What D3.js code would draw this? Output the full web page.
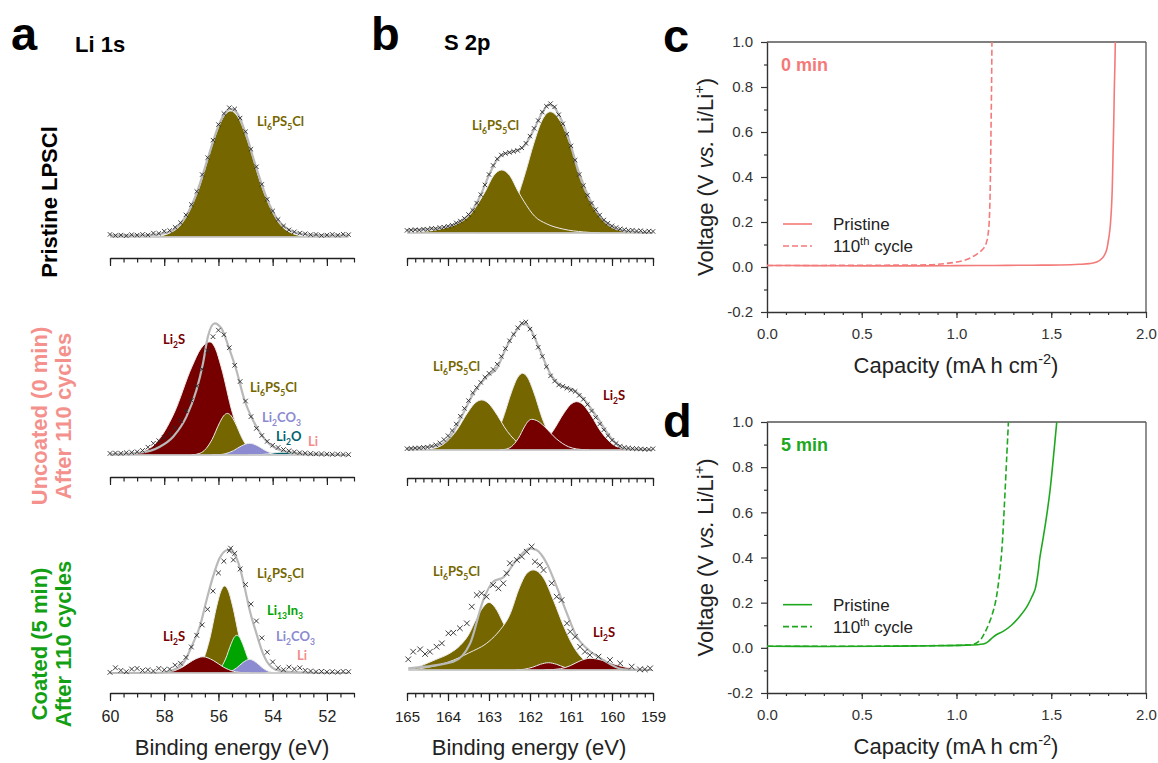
<!DOCTYPE html>
<html>
<head>
<meta charset="utf-8">
<script src="https://cdn.jsdelivr.net/npm/d3@7"></script>
<style>
body { margin: 0; background: #fff; }
svg { display: block; font-family: Arial, "Liberation Sans", sans-serif; }
</style>
</head>
<body>
<div id="chart"></div>
<script>
// ---------- tick labels ----------
const liTicks = [60, 58, 56, 54, 52];
const sTicks = [165, 164, 163, 162, 161, 160, 159];
const capTicks = [0, 0.5, 1.0, 1.5, 2.0];
const voltTicks = [-0.2, 0, 0.2, 0.4, 0.6, 0.8, 1.0];

// ---------- Li 1s, pristine LPSCl  [binding energy eV, intensity] ----------
const liPristineData = [[60.0,0.02],[59.8,0.012],[59.6,0.015],[59.4,0.01],[59.2,0.018],[59.0,0.014],[58.8,0.02],[58.6,0.016],[58.4,0.03],[58.2,0.028],[58.0,0.045],[57.8,0.05],[57.6,0.075],[57.4,0.11],[57.2,0.17],[57.0,0.25],[56.8,0.35],[56.6,0.48],[56.4,0.61],[56.2,0.745],[56.0,0.865],[55.8,0.95],[55.6,0.995],[55.4,0.985],[55.2,0.915],[55.0,0.81],[54.8,0.675],[54.6,0.54],[54.4,0.405],[54.2,0.29],[54.0,0.2],[53.8,0.135],[53.6,0.085],[53.4,0.055],[53.2,0.04],[53.0,0.03],[52.8,0.025],[52.6,0.018],[52.4,0.02],[52.2,0.012],[52.0,0.015],[51.8,0.02],[51.6,0.014],[51.4,0.022],[51.2,0.018]];
const liPristineFit = [[60.0,0.012],[58.6,0.015],[58.0,0.03],[57.6,0.065],[57.2,0.16],[56.8,0.34],[56.4,0.6],[56.0,0.855],[55.8,0.94],[55.55,0.985],[55.3,0.95],[55.0,0.8],[54.6,0.53],[54.2,0.29],[53.8,0.13],[53.4,0.055],[53.0,0.025],[52.4,0.015],[51.2,0.012]];
const liPristineLPSCl = [[58.4,0],[57.75,0.035],[57.35,0.103],[56.75,0.357],[56.15,0.756],[55.85,0.912],[55.55,0.97],[55.25,0.912],[54.95,0.756],[54.35,0.357],[53.75,0.103],[53.35,0.035],[52.7,0]];

// ---------- Li 1s, uncoated after 110 cycles ----------
const liUncData = [[60.0,0.012],[59.8,0.015],[59.6,0.013],[59.4,0.018],[59.2,0.02],[59.0,0.025],[58.8,0.035],[58.6,0.06],[58.4,0.09],[58.2,0.11],[58.0,0.135],[57.8,0.165],[57.6,0.21],[57.4,0.265],[57.2,0.34],[57.0,0.42],[56.8,0.53],[56.6,0.66],[56.4,0.8],[56.2,0.91],[56.0,0.96],[55.8,0.925],[55.6,0.825],[55.4,0.69],[55.2,0.565],[55.0,0.415],[54.8,0.295],[54.6,0.205],[54.4,0.15],[54.2,0.105],[54.0,0.075],[53.8,0.058],[53.6,0.042],[53.4,0.032],[53.2,0.024],[53.0,0.018],[52.8,0.014],[52.6,0.011],[52.4,0.009],[52.2,0.008],[52.0,0.007],[51.8,0.005],[51.6,0.006],[51.4,0.004],[51.2,0.003]];
const liUncFit = [[60.0,0.005],[58.9,0.018],[58.16,0.064],[57.67,0.141],[57.18,0.295],[56.81,0.5],[56.57,0.705],[56.39,0.91],[56.14,1.013],[55.89,0.974],[55.59,0.81],[55.34,0.654],[55.04,0.423],[54.73,0.27],[54.36,0.14],[53.87,0.05],[53.26,0.018],[52.4,0.005],[51.2,0.0]];
const liUncLi2S = [[59.4,0],[58.74,0.03],[58.3,0.092],[57.64,0.32],[56.98,0.678],[56.65,0.818],[56.32,0.87],[56.11,0.818],[55.9,0.678],[55.48,0.32],[55.06,0.092],[54.78,0.03],[54.36,0]];
const liUncLPSCl = [[57.0,0],[56.715,0.011],[56.525,0.034],[56.24,0.118],[55.955,0.249],[55.81,0.301],[55.67,0.32],[55.53,0.301],[55.385,0.249],[55.1,0.118],[54.815,0.034],[54.625,0.011],[54.34,0]];
const liUncLi2CO3 = [[56.25,0],[55.95,0.003],[55.75,0.0095],[55.45,0.033],[55.15,0.07],[54.85,0.09],[54.55,0.07],[54.25,0.033],[53.95,0.0095],[53.75,0.003],[53.45,0]];
const liUncLi2O = [[54.9,0],[54.45,0.003],[54.19,0.008],[53.92,0.017],[53.65,0.022],[53.38,0.017],[53.11,0.008],[52.85,0.003],[52.4,0]];
const liUncLi = [[54.1,0],[53.6,0.002],[53.3,0.0045],[53.0,0.0094],[52.7,0.012],[52.4,0.0094],[52.1,0.0045],[51.8,0.002],[51.3,0]];

// ---------- Li 1s, coated (5 min) after 110 cycles ----------
const liCoatData = [[60.0,0.005],[59.8,0.04],[59.6,0.02],[59.4,0.01],[59.2,0.03],[59.0,0.035],[58.8,0.02],[58.6,0.025],[58.4,0.015],[58.2,0.035],[58.0,0.025],[57.8,0.03],[57.6,0.06],[57.4,0.075],[57.2,0.12],[57.0,0.2],[56.8,0.29],[56.6,0.37],[56.4,0.49],[56.2,0.63],[56.0,0.77],[55.8,0.86],[55.6,0.94],[55.55,0.96],[55.45,0.87],[55.4,0.92],[55.2,0.8],[55.0,0.68],[54.8,0.53],[54.6,0.4],[54.4,0.27],[54.2,0.16],[54.0,0.085],[53.8,0.04],[53.6,0.025],[53.4,0.045],[53.2,0.03],[53.0,0.04],[52.8,0.02],[52.6,0.015],[52.4,0.01],[52.2,0.012],[52.0,0.008],[51.8,0.01],[51.6,0.006],[51.4,0.012],[51.2,0.01]];
const liCoatFit = [[60.0,0.0],[58.16,0.002],[57.67,0.023],[57.3,0.075],[56.94,0.228],[56.69,0.356],[56.44,0.56],[56.2,0.741],[55.96,0.882],[55.65,0.946],[55.4,0.908],[55.22,0.818],[55.04,0.664],[54.85,0.485],[54.6,0.305],[54.36,0.151],[54.12,0.062],[53.75,0.018],[53.0,0.004],[51.2,0.0]];
const liCoatLPSCl = [[57.1,0],[56.815,0.024],[56.625,0.071],[56.34,0.247],[56.055,0.522],[55.91,0.63],[55.77,0.67],[55.63,0.63],[55.485,0.522],[55.2,0.247],[54.915,0.071],[54.725,0.024],[54.44,0]];
const liCoatLi13In3 = [[56.3,0],[56.09,0.01],[55.95,0.031],[55.74,0.107],[55.53,0.226],[55.425,0.273],[55.32,0.29],[55.215,0.273],[55.11,0.226],[54.9,0.107],[54.69,0.031],[54.55,0.01],[54.34,0]];
const liCoatLi2CO3 = [[55.97,0],[55.73,0.004],[55.57,0.011],[55.33,0.039],[55.09,0.082],[54.85,0.105],[54.61,0.082],[54.37,0.039],[54.13,0.011],[53.97,0.004],[53.73,0]];
const liCoatLi2S = [[58.32,0],[57.945,0.0044],[57.695,0.013],[57.32,0.046],[56.945,0.097],[56.57,0.125],[56.195,0.097],[55.82,0.046],[55.445,0.013],[55.195,0.0044],[54.82,0]];
const liCoatLi = [[54.25,0],[53.75,0.0016],[53.45,0.0037],[53.15,0.0078],[52.85,0.01],[52.55,0.0078],[52.25,0.0037],[51.95,0.0016],[51.45,0]];

// ---------- S 2p, pristine LPSCl ----------
const sPristineData = [[165.0,0.02],[164.9,0.022],[164.8,0.025],[164.7,0.022],[164.6,0.03],[164.5,0.028],[164.4,0.036],[164.3,0.034],[164.2,0.042],[164.1,0.045],[164.0,0.052],[163.9,0.06],[163.8,0.078],[163.7,0.092],[163.6,0.112],[163.5,0.142],[163.4,0.175],[163.3,0.23],[163.2,0.295],[163.1,0.37],[163.0,0.45],[162.9,0.52],[162.8,0.57],[162.7,0.6],[162.6,0.612],[162.5,0.62],[162.4,0.628],[162.3,0.635],[162.2,0.655],[162.1,0.69],[162.0,0.745],[161.9,0.805],[161.8,0.865],[161.7,0.93],[161.6,0.975],[161.5,0.995],[161.4,0.97],[161.3,0.91],[161.2,0.84],[161.1,0.76],[161.0,0.67],[160.9,0.56],[160.8,0.45],[160.7,0.365],[160.6,0.29],[160.5,0.23],[160.4,0.18],[160.3,0.138],[160.2,0.1],[160.1,0.075],[160.0,0.055],[159.9,0.042],[159.8,0.032],[159.7,0.026],[159.6,0.02],[159.5,0.022],[159.4,0.015],[159.3,0.018],[159.2,0.01],[159.1,0.015],[159.0,0.012]];
const sPristineFit = [[165.0,0.023],[164.28,0.035],[163.79,0.074],[163.46,0.151],[163.22,0.28],[162.98,0.459],[162.81,0.561],[162.65,0.608],[162.41,0.626],[162.16,0.664],[161.91,0.792],[161.71,0.92],[161.55,0.985],[161.43,0.972],[161.27,0.895],[161.02,0.69],[160.78,0.431],[160.54,0.254],[160.21,0.1],[159.8,0.023],[159.03,0.0]];
const sPristineMain = [[163.31,0],[162.91,0.021],[162.56,0.112],[162.31,0.272],[162.11,0.467],[161.91,0.686],[161.71,0.864],[161.51,0.933],[161.26,0.86],[161.01,0.674],[160.76,0.449],[160.51,0.254],[160.21,0.103],[159.86,0.027],[159.41,0]];
const sPristineSide = [[165.0,0],[164.69,0.008],[164.19,0.03],[163.79,0.07],[163.49,0.13],[163.24,0.24],[163.09,0.32],[162.89,0.44],[162.69,0.485],[162.49,0.44],[162.29,0.32],[162.14,0.24],[161.89,0.13],[161.59,0.07],[161.19,0.03],[160.69,0.008],[160.29,0]];

// ---------- S 2p, uncoated after 110 cycles ----------
const sUncData = [[165.0,0.01],[164.9,0.012],[164.8,0.015],[164.7,0.016],[164.6,0.02],[164.5,0.022],[164.4,0.03],[164.3,0.04],[164.2,0.055],[164.1,0.08],[164.0,0.11],[163.9,0.15],[163.8,0.2],[163.7,0.26],[163.6,0.32],[163.5,0.38],[163.4,0.44],[163.3,0.48],[163.2,0.52],[163.1,0.56],[163.0,0.59],[162.9,0.62],[162.8,0.66],[162.7,0.72],[162.6,0.78],[162.5,0.84],[162.4,0.89],[162.3,0.94],[162.2,0.975],[162.1,0.985],[162.0,0.93],[161.9,0.87],[161.8,0.79],[161.7,0.72],[161.6,0.64],[161.5,0.57],[161.4,0.53],[161.3,0.5],[161.2,0.49],[161.1,0.475],[161.0,0.46],[160.9,0.45],[160.8,0.42],[160.7,0.39],[160.6,0.35],[160.5,0.3],[160.4,0.25],[160.3,0.2],[160.2,0.155],[160.1,0.11],[160.0,0.075],[159.9,0.05],[159.8,0.03],[159.7,0.02],[159.6,0.015],[159.5,0.012],[159.4,0.01],[159.3,0.008],[159.2,0.006],[159.1,0.005],[159.0,0.01]];
const sUncFit = [[165.0,0.013],[164.28,0.031],[163.95,0.103],[163.67,0.256],[163.38,0.436],[163.06,0.564],[162.81,0.628],[162.57,0.795],[162.32,0.923],[162.16,0.974],[162.0,0.936],[161.76,0.769],[161.51,0.59],[161.27,0.5],[160.94,0.462],[160.7,0.397],[160.37,0.256],[160.05,0.103],[159.72,0.013],[159.03,0.0]];
const sUncLPSClMain = [[163.37,0],[163.115,0.02],[162.945,0.0625],[162.69,0.217],[162.435,0.46],[162.3075,0.555],[162.18,0.59],[162.0525,0.555],[161.925,0.46],[161.67,0.217],[161.415,0.0625],[161.245,0.02],[160.99,0]];
const sUncLPSClSide = [[164.65,0],[164.335,0.0135],[164.125,0.041],[163.81,0.142],[163.495,0.3],[163.3375,0.362],[163.18,0.385],[163.0225,0.362],[162.865,0.3],[162.55,0.142],[162.235,0.041],[162.025,0.0135],[161.71,0]];
const sUncLi2SMain = [[162.26,0],[161.96,0.013],[161.76,0.039],[161.46,0.137],[161.16,0.29],[161.01,0.35],[160.86,0.372],[160.71,0.35],[160.56,0.29],[160.26,0.137],[159.96,0.039],[159.76,0.013],[159.46,0]];
const sUncLi2SSide = [[162.73,0],[162.565,0.008],[162.455,0.025],[162.29,0.087],[162.125,0.184],[162.0425,0.222],[161.96,0.236],[161.81,0.222],[161.66,0.184],[161.36,0.087],[161.06,0.025],[160.86,0.008],[160.56,0]];

// ---------- S 2p, coated (5 min) after 110 cycles ----------
const sCoatData = [[164.97,0.082],[164.85,0.141],[164.68,0.159],[164.56,0.123],[164.44,0.141],[164.28,0.179],[164.15,0.205],[163.99,0.282],[163.87,0.287],[163.71,0.321],[163.54,0.359],[163.42,0.487],[163.3,0.577],[163.18,0.59],[163.06,0.564],[162.9,0.654],[162.77,0.628],[162.65,0.667],[162.57,0.744],[162.49,0.821],[162.32,0.846],[162.2,0.872],[162.08,0.91],[161.96,0.949],[161.88,0.833],[161.76,0.808],[161.67,0.769],[161.47,0.667],[161.35,0.564],[161.23,0.538],[161.1,0.359],[161.02,0.295],[160.9,0.256],[160.78,0.179],[160.66,0.141],[160.54,0.115],[160.33,0.103],[160.05,0.077],[159.8,0.051],[159.52,0.026],[159.32,0.005],[159.2,0.005],[159.07,0.013]];
const sCoatFit = [[164.97,0.013],[163.87,0.064],[163.46,0.205],[163.14,0.538],[162.9,0.679],[162.65,0.713],[162.33,0.846],[162.0,0.936],[161.84,0.923],[161.59,0.82],[161.35,0.641],[161.1,0.436],[160.86,0.256],[160.62,0.167],[160.21,0.077],[159.72,0.005],[159.03,0.0]];
const sCoatLPSClSide = [[164.95,0],[164.6,0.04],[164.3,0.08],[163.95,0.13],[163.7,0.19],[163.5,0.27],[163.3,0.4],[163.15,0.48],[163.0,0.52],[162.85,0.48],[162.65,0.36],[162.45,0.23],[162.24,0.13],[161.99,0.075],[161.69,0.04],[161.29,0.015],[160.89,0]];
const sCoatLPSClMain = [[164.9,0],[164.5,0.02],[164.0,0.06],[163.5,0.13],[163.0,0.22],[162.75,0.3],[162.5,0.42],[162.25,0.64],[162.1,0.735],[161.92,0.77],[161.67,0.708],[161.42,0.53],[161.17,0.33],[160.92,0.17],[160.62,0.06],[160.32,0.015],[160.02,0]];
const sCoatLi2SSide = [[162.35,0],[162.135,0.006],[161.94,0.021],[161.745,0.044],[161.55,0.056],[161.355,0.044],[161.16,0.021],[160.965,0.006],[160.75,0]];
const sCoatLi2SMain = [[161.64,0],[161.26,0.0096],[161.02,0.033],[160.78,0.07],[160.54,0.09],[160.18,0.07],[159.82,0.033],[159.46,0.0096],[159.05,0]];

// ---------- voltage profiles [capacity mA h cm-2, voltage V] ----------
const cPristine = [[0,0.007],[0.2,0.006],[0.5,0.005],[0.8,0.005],[1.0,0.006],[1.2,0.007],[1.4,0.008],[1.55,0.009],[1.65,0.012],[1.7,0.015],[1.74,0.022],[1.77,0.04],[1.79,0.07],[1.8,0.11],[1.81,0.17],[1.817,0.25],[1.822,0.35],[1.826,0.5],[1.83,0.65],[1.833,0.8],[1.836,0.9],[1.838,1.0]];
const cCycled = [[0,0.007],[0.3,0.007],[0.6,0.008],[0.8,0.009],[0.9,0.012],[0.95,0.016],[1.0,0.022],[1.05,0.032],[1.09,0.048],[1.12,0.065],[1.145,0.085],[1.16,0.115],[1.17,0.17],[1.175,0.25],[1.179,0.4],[1.182,0.6],[1.185,0.8],[1.187,1.0]];
const dPristine = [[0,0.007],[0.3,0.006],[0.6,0.007],[0.9,0.009],[1.05,0.012],[1.12,0.015],[1.15,0.019],[1.17,0.03],[1.19,0.045],[1.21,0.058],[1.25,0.075],[1.29,0.1],[1.33,0.135],[1.37,0.18],[1.4,0.23],[1.415,0.26],[1.43,0.33],[1.44,0.4],[1.46,0.5],[1.48,0.61],[1.494,0.7],[1.511,0.84],[1.529,1.0]];
const dCycled = [[0,0.007],[0.5,0.007],[0.9,0.01],[1.05,0.012],[1.09,0.015],[1.125,0.034],[1.151,0.07],[1.178,0.122],[1.204,0.196],[1.221,0.284],[1.239,0.43],[1.253,0.638],[1.265,0.844],[1.274,1.0]];

// ---------- styles ----------
const speciesColor = { lpscl: "#766600", li2s: "#760000", li2co3: "#8c8ad0", li2o: "#00626e", li: "#f48c8c", li13in3: "#00a400" };
const pink = "#f4918c", green = "#14a014";

const svg = d3.select("#chart").append("svg").attr("width", 1158).attr("height", 763);

// text with _{sub}, ^{sup} and *italic* parts
function rich(text, str, fs) {
    let shift = 0;
    str.split(/(_\{[^}]*\}|\^\{[^}]*\}|\*[^*]*\*)/).filter(s => s.length).forEach(p => {
        let target = 0, txt = p, small = false, ital = false;
        if (p.startsWith("_{")) { target = fs * 0.28; txt = p.slice(2, -1); small = true; }
        else if (p.startsWith("^{")) { target = -fs * 0.42; txt = p.slice(2, -1); small = true; }
        else if (p.startsWith("*")) { ital = true; txt = p.slice(1, -1); }
        const t = text.append("tspan").attr("dy", target - shift);
        shift = target;
        if (small) t.attr("font-size", fs * 0.66);
        if (ital) t.attr("font-style", "italic");
        t.text(txt);
    });
    return text;
}

// panel letters and titles
[["a", 11, 50], ["b", 371, 50], ["c", 663, 52], ["d", 663, 437]].forEach(([t, x, y]) => {
    svg.append("text").attr("x", x).attr("y", y).attr("font-size", 47).attr("font-weight", "bold").attr("fill", "#000").text(t);
});
svg.append("text").attr("x", 75).attr("y", 52).attr("font-size", 22).attr("font-weight", "bold").text("Li 1s");
svg.append("text").attr("x", 444).attr("y", 50).attr("font-size", 22).attr("font-weight", "bold").text("S 2p");

// rotated sample labels
function sideLabel(lines, color, cy) {
    lines.forEach(([t, bx]) => {
        svg.append("text").attr("transform", `translate(${bx},${cy}) rotate(-90)`)
            .attr("text-anchor", "middle").attr("font-size", 22).attr("font-weight", "bold")
            .attr("fill", color).text(t);
    });
}
sideLabel([["Pristine LPSCl", 57]], "#000", 202);
sideLabel([["Uncoated (0 min)", 47], ["After 110 cycles", 71]], pink, 416);
sideLabel([["Coated (5 min)", 47], ["After 110 cycles", 71]], green, 644);

// ---------- XPS rows ----------
const liX = d3.scaleLinear().domain([60, 51]).range([110, 354]);
const sX = d3.scaleLinear().domain([165, 159]).range([407, 653]);
const liMinor = d3.range(51, 60.01, 0.5);
const sMinor = d3.range(159, 165.01, 0.2);
const unitH = 130;

const xpsRows = [
    { x: liX, ticks: liTicks, minor: liMinor, fs: 16, base: 237, axisY: 258, showLabels: false, cross: 2.2,
      data: liPristineData, fit: liPristineFit, comps: [[liPristineLPSCl, "lpscl"]],
      labels: [["Li_{6}PS_{5}Cl", "lpscl", 257, 126]] },
    { x: liX, ticks: liTicks, minor: liMinor, fs: 16, base: 455, axisY: 477, showLabels: false, cross: 2.3,
      data: liUncData, fit: liUncFit,
      comps: [[liUncLi2S, "li2s"], [liUncLPSCl, "lpscl"], [liUncLi2CO3, "li2co3"], [liUncLi2O, "li2o"], [liUncLi, "li"]],
      labels: [["Li_{2}S", "li2s", 163, 344], ["Li_{6}PS_{5}Cl", "lpscl", 250, 392], ["Li_{2}CO_{3}", "li2co3", 262, 422], ["Li_{2}O", "li2o", 276, 441], ["Li", "li", 308, 446]] },
    { x: liX, ticks: liTicks, minor: liMinor, fs: 16, base: 673, axisY: 693, showLabels: true, cross: 2.4,
      data: liCoatData, fit: liCoatFit,
      comps: [[liCoatLPSCl, "lpscl"], [liCoatLi13In3, "li13in3"], [liCoatLi2CO3, "li2co3"], [liCoatLi2S, "li2s"], [liCoatLi, "li"]],
      labels: [["Li_{6}PS_{5}Cl", "lpscl", 257, 578], ["Li_{13}In_{3}", "li13in3", 267, 615], ["Li_{2}S", "li2s", 163, 641], ["Li_{2}CO_{3}", "li2co3", 276, 641], ["Li", "li", 297, 660]] },
    { x: sX, ticks: sTicks, minor: sMinor, fs: 15, base: 233, axisY: 258, showLabels: false, cross: 2.2,
      data: sPristineData, fit: sPristineFit, comps: [[sPristineMain, "lpscl"], [sPristineSide, "lpscl"]],
      labels: [["Li_{6}PS_{5}Cl", "lpscl", 472, 130]] },
    { x: sX, ticks: sTicks, minor: sMinor, fs: 15, base: 450, axisY: 478, showLabels: false, cross: 2.2,
      data: sUncData, fit: sUncFit,
      comps: [[sUncLPSClMain, "lpscl"], [sUncLPSClSide, "lpscl"], [sUncLi2SMain, "li2s"], [sUncLi2SSide, "li2s"]],
      labels: [["Li_{6}PS_{5}Cl", "lpscl", 433, 371], ["Li_{2}S", "li2s", 603, 400]] },
    { x: sX, ticks: sTicks, minor: sMinor, fs: 15, base: 670, axisY: 693, showLabels: true, cross: 2.8,
      data: sCoatData, fit: sCoatFit,
      comps: [[sCoatLPSClSide, "lpscl"], [sCoatLPSClMain, "lpscl"], [sCoatLi2SSide, "li2s"], [sCoatLi2SMain, "li2s"]],
      labels: [["Li_{6}PS_{5}Cl", "lpscl", 433, 576], ["Li_{2}S", "li2s", 593, 637]] }
];

function drawRow(row) {
    const g = svg.append("g");
    const y = d3.scaleLinear().domain([0, 1]).range([row.base, row.base - unitH]);
    const area = d3.area().x(d => row.x(d[0])).y0(row.base).y1(d => y(d[1])).curve(d3.curveMonotoneX);
    const line = d3.line().x(d => row.x(d[0])).y(d => y(d[1])).curve(d3.curveMonotoneX);

    // fitted components
    row.comps.forEach(([pts, sp]) => {
        g.append("path").attr("d", area(pts)).attr("fill", speciesColor[sp])
            .attr("stroke", "#ececec").attr("stroke-width", 1);
    });
    // background and envelope
    const ext = d3.extent(row.data, d => d[0]);
    g.append("line").attr("x1", row.x(ext[1])).attr("x2", row.x(ext[0]))
        .attr("y1", row.base).attr("y2", row.base).attr("stroke", "#c2c2c2").attr("stroke-width", 1.6);
    g.append("path").attr("d", line(row.fit)).attr("fill", "none")
        .attr("stroke", "#b9b9b9").attr("stroke-width", 2.2);
    // measured points
    const s = row.cross;
    g.selectAll("path.pt").data(row.data).join("path").attr("class", "pt")
        .attr("transform", d => `translate(${row.x(d[0])},${y(d[1])})`)
        .attr("d", `M${-s},${-s}L${s},${s}M${-s},${s}L${s},${-s}`)
        .attr("stroke", "#2a2a2a").attr("stroke-width", 0.9).attr("fill", "none");

    // axis
    const major = d3.axisBottom(row.x).tickValues(row.ticks).tickSize(8).tickSizeOuter(0).tickPadding(10)
        .tickFormat(row.showLabels ? d => d : () => "");
    const ag = g.append("g").attr("transform", `translate(0,${row.axisY})`).call(major);
    const mg = g.append("g").attr("transform", `translate(0,${row.axisY})`)
        .call(d3.axisBottom(row.x).tickValues(row.minor).tickSize(4.5).tickFormat(() => ""));
    mg.select(".domain").remove();
    ag.select(".domain").attr("stroke", "#222").attr("stroke-width", 1.5);
    g.selectAll(".tick line").attr("stroke", "#222").attr("stroke-width", 1.2);
    ag.selectAll(".tick text").attr("font-size", row.fs).attr("fill", "#222")
        .attr("font-family", "Arial, 'Liberation Sans', sans-serif");

    // species labels
    row.labels.forEach(([t, sp, lx, ly]) => {
        rich(g.append("text").attr("x", lx).attr("y", ly).attr("font-size", 13).attr("font-weight", "bold")
            .attr("font-family", "Lato, 'Open Sans', sans-serif").attr("fill", speciesColor[sp]), t, 13);
    });
}
xpsRows.forEach(drawRow);

[[232, "Binding energy (eV)"], [529, "Binding energy (eV)"]].forEach(([cx, t]) => {
    svg.append("text").attr("x", cx).attr("y", 755).attr("text-anchor", "middle")
        .attr("font-size", 22).attr("fill", "#222").text(t);
});

// ---------- voltage panels ----------
const curvePanels = [
    { top: 42, bottom: 312, color: "#f47a7a", tag: "0 min", pristine: cPristine, cycled: cCycled },
    { top: 422, bottom: 693, color: "#1fa81f", tag: "5 min", pristine: dPristine, cycled: dCycled }
];

function drawCurvePanel(p) {
    const g = svg.append("g");
    const x = d3.scaleLinear().domain([0, 2]).range([767, 1146]);
    const y = d3.scaleLinear().domain([-0.2, 1.0]).range([p.bottom, p.top]);

    // frame
    g.append("line").attr("x1", x(0)).attr("x2", x(2)).attr("y1", y(1)).attr("y2", y(1)).attr("stroke", "#555").attr("stroke-width", 1.3);
    g.append("line").attr("x1", x(2)).attr("x2", x(2)).attr("y1", y(1)).attr("y2", y(-0.2)).attr("stroke", "#555").attr("stroke-width", 1.3);

    g.append("g").attr("transform", `translate(0,${p.bottom})`)
        .call(d3.axisBottom(x).tickValues(capTicks).tickSize(6).tickSizeOuter(0).tickPadding(10).tickFormat(d => d.toFixed(1)));
    g.append("g").attr("transform", `translate(0,${p.bottom})`)
        .call(d3.axisBottom(x).tickValues(d3.range(0.1, 2, 0.1)).tickSize(3).tickFormat(() => ""))
        .select(".domain").remove();
    g.append("g").attr("transform", `translate(${x(0)},0)`)
        .call(d3.axisLeft(y).tickValues(voltTicks).tickSize(6).tickSizeOuter(0).tickPadding(8).tickFormat(d => d.toFixed(1)));
    g.append("g").attr("transform", `translate(${x(0)},0)`)
        .call(d3.axisLeft(y).tickValues(d3.range(-0.1, 1.0, 0.2)).tickSize(3).tickFormat(() => ""))
        .select(".domain").remove();
    g.selectAll(".domain").attr("stroke", "#333").attr("stroke-width", 1.4);
    g.selectAll(".tick line").attr("stroke", "#333").attr("stroke-width", 1.2);
    g.selectAll(".tick text").attr("font-size", 15).attr("fill", "#333")
        .attr("font-family", "Arial, 'Liberation Sans', sans-serif");

    // curves
    const line = d3.line().x(d => x(d[0])).y(d => y(d[1])).curve(d3.curveCatmullRom.alpha(0.5));
    g.append("path").attr("d", line(p.pristine)).attr("fill", "none").attr("stroke", p.color).attr("stroke-width", 1.6);
    g.append("path").attr("d", line(p.cycled)).attr("fill", "none").attr("stroke", p.color).attr("stroke-width", 1.6)
        .attr("stroke-dasharray", "6,3");

    // tag and legend
    g.append("text").attr("x", 781).attr("y", y(0.9) + 6).attr("font-size", 18).attr("font-weight", "bold")
        .attr("fill", p.color).text(p.tag);
    const ly1 = y(0.2) + 2, ly2 = ly1 + 22;
    g.append("line").attr("x1", 783).attr("x2", 812).attr("y1", ly1).attr("y2", ly1).attr("stroke", p.color).attr("stroke-width", 1.6);
    g.append("line").attr("x1", 783).attr("x2", 812).attr("y1", ly2).attr("y2", ly2).attr("stroke", p.color).attr("stroke-width", 1.6)
        .attr("stroke-dasharray", "6,3");
    g.append("text").attr("x", 833).attr("y", ly1 + 6).attr("font-size", 17).attr("fill", "#222").text("Pristine");
    rich(g.append("text").attr("x", 833).attr("y", ly2 + 6).attr("font-size", 17).attr("fill", "#222"), "110^{th} cycle", 17);

    // axis titles
    rich(g.append("text").attr("transform", `translate(713,${(p.top + p.bottom) / 2}) rotate(-90)`)
        .attr("text-anchor", "middle").attr("font-size", 22).attr("fill", "#222"), "Voltage (V *vs.* Li/Li^{+})", 22);
    rich(g.append("text").attr("x", 956).attr("y", p.bottom + 61).attr("text-anchor", "middle")
        .attr("font-size", 22).attr("fill", "#222"), "Capacity (mA h cm^{-2})", 22);
}
curvePanels.forEach(drawCurvePanel);
</script>
</body>
</html>
